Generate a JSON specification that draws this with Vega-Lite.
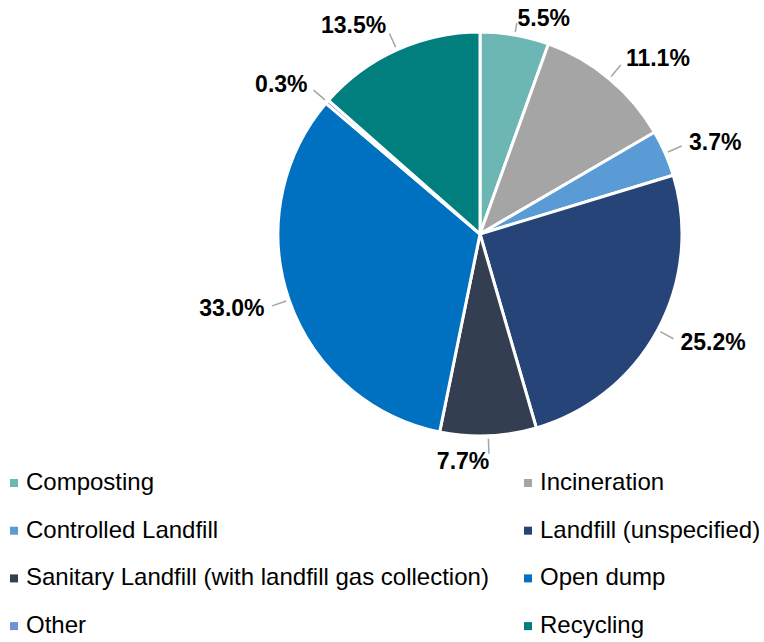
{
  "$schema": "https://vega.github.io/schema/vega-lite/v6.json",
  "width": 404,
  "height": 404,
  "autosize": {"type": "none"},
  "padding": {"left": 278, "top": 32, "right": 82, "bottom": 206},
  "background": "white",
  "config": {"view": {"stroke": null}},
  "data": {
    "values": [
      {"order": 1, "category": "Composting", "share": 0.055},
      {"order": 2, "category": "Incineration", "share": 0.111},
      {"order": 3, "category": "Controlled Landfill", "share": 0.037},
      {"order": 4, "category": "Landfill (unspecified)", "share": 0.252},
      {"order": 5, "category": "Sanitary Landfill (with landfill gas collection)", "share": 0.077},
      {"order": 6, "category": "Open dump", "share": 0.330},
      {"order": 7, "category": "Other", "share": 0.003},
      {"order": 8, "category": "Recycling", "share": 0.135}
    ]
  },
  "encoding": {
    "theta": {"field": "share", "type": "quantitative", "stack": true},
    "order": {"field": "order", "type": "quantitative", "sort": "ascending"}
  },
  "layer": [
    {
      "mark": {"type": "arc", "stroke": "white", "strokeWidth": 3},
      "encoding": {
        "color": {
          "field": "category",
          "type": "nominal",
          "scale": {
            "domain": ["Composting", "Incineration", "Controlled Landfill", "Landfill (unspecified)", "Sanitary Landfill (with landfill gas collection)", "Open dump", "Other", "Recycling"],
            "range": ["#6CB6B3", "#A5A5A5", "#5B9BD5", "#264478", "#333F50", "#0070C0", "#6F91D8", "#007F7E"]
          },
          "legend": {
            "orient": "none",
            "direction": "horizontal",
            "legendX": -276,
            "legendY": 439,
            "columns": 2,
            "columnPadding": 27,
            "rowPadding": 23.7,
            "symbolType": "square",
            "symbolSize": 64,
            "symbolStrokeWidth": 0,
            "labelFontSize": 24,
            "labelFont": "Liberation Sans",
            "labelColor": "#000000",
            "labelOffset": 0,
            "labelLimit": 700,
            "title": null,
            "padding": 0
          }
        }
      }
    },
    {
      "mark": {"type": "arc", "padAngle": 3.2, "fillOpacity": 0, "stroke": "#A6A6A6", "strokeWidth": 1.5, "radius": {"expr": "datum.order == 1 ? 214 : 220"}, "radius2": 205},
      "encoding": {}
    },
    {
      "mark": {"type": "text", "font": "Liberation Sans", "fontWeight": "bold", "fontSize": 23, "baseline": "middle", "radius": {"expr": "datum.order == 1 ? 218 : 228"}, "align": {"expr": "datum.order <= 4 ? 'left' : 'right'"}, "color": "#000000"},
      "encoding": {
        "text": {"field": "share", "type": "quantitative", "format": ".1%"}
      }
    }
  ]
}
